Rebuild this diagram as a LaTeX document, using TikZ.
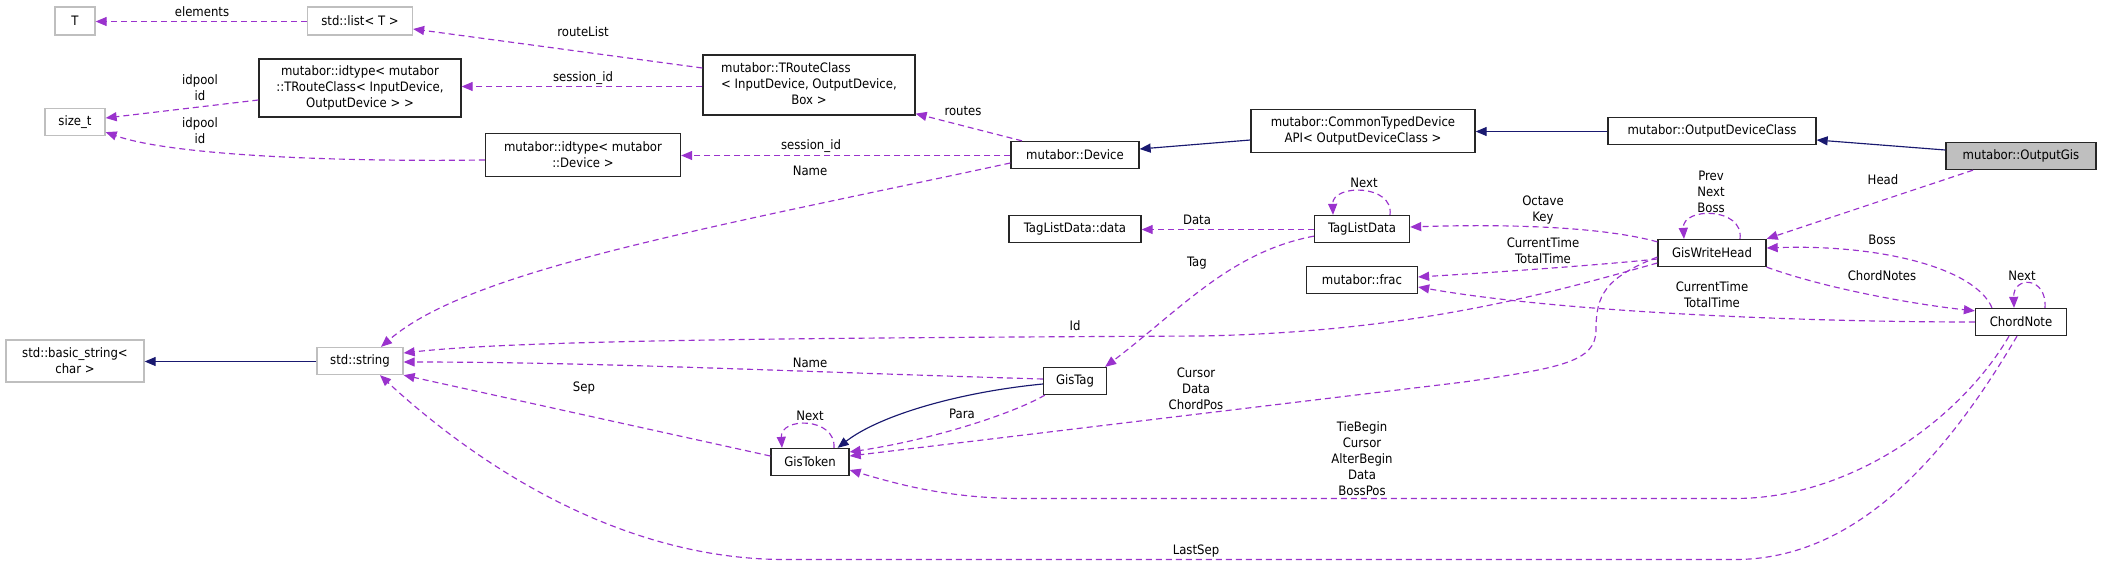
\documentclass[tikz,border=0pt]{standalone}
\usepackage{fontspec}
\setmainfont{DejaVu Sans Condensed}
\usetikzlibrary{arrows.meta,calc}
\definecolor{usecol}{HTML}{9A32CD}
\definecolor{inhcol}{HTML}{191970}
\definecolor{greyline}{HTML}{BFBFBF}
\begin{document}
\begin{tikzpicture}[x=1pt,y=-1pt,
  every node/.style={font=\fontsize{13}{16}\selectfont},
  cls/.style={draw=black!85,line width=1.3pt,fill=white,inner sep=0pt,align=center},
  ext/.style={draw=greyline,line width=1.3pt,fill=white,inner sep=0pt,align=center},
  usage/.style={draw=usecol,line width=1.15pt,dash pattern=on 6pt off 4pt,-{Triangle[length=11pt,width=9pt]}},
  inherit/.style={draw=inhcol,line width=1.15pt,-{Triangle[length=11pt,width=9pt]}},
  lab/.style={align=center,inner sep=0pt}
]
\path[use as bounding box,fill=white] (0,0) rectangle (2101,565);

% nodes
\node[ext, minimum width=40, minimum height=28] (T) at (75,21) {T};
\node[ext, minimum width=105, minimum height=28] (list) at (360,21) {std::list< T >};
\node[cls, minimum width=202, minimum height=58] (idTR) at (360,88) {mutabor::idtype< mutabor\\::TRouteClass< InputDevice,\\OutputDevice > >};
\node[ext, minimum width=60, minimum height=27] (size) at (75,122) {size\_t};
\node[cls, minimum width=195, minimum height=43] (idDev) at (583,155) {mutabor::idtype< mutabor\\::Device >};
\node[cls, minimum width=212, minimum height=60] (TR) at (809,85) {\begin{tabular}{@{}l@{}}mutabor::TRouteClass\\< InputDevice, OutputDevice,\\\multicolumn{1}{@{}c@{}}{Box >}\end{tabular}};
\node[cls, minimum width=128, minimum height=27] (dev) at (1075,155) {mutabor::Device};
\node[cls, minimum width=224, minimum height=43] (CT) at (1363,131) {mutabor::CommonTypedDevice\\API< OutputDeviceClass >};
\node[cls, minimum width=208, minimum height=27] (ODC) at (1712,131) {mutabor::OutputDeviceClass};
\node[cls, fill=greyline, minimum width=150, minimum height=27] (OG) at (2021,156) {mutabor::OutputGis};
\node[cls, minimum width=132, minimum height=27] (TLDd) at (1075,229) {TagListData::data};
\node[cls, minimum width=95, minimum height=27] (TLD) at (1362,229) {TagListData};
\node[cls, minimum width=111, minimum height=27] (frac) at (1362,280) {mutabor::frac};
\node[cls, minimum width=108, minimum height=27] (GWH) at (1712,253) {GisWriteHead};
\node[cls, minimum width=91, minimum height=27] (CN) at (2021,322) {ChordNote};
\node[ext, minimum width=138, minimum height=42] (bstr) at (75,361) {std::basic\_string<\\char >};
\node[ext, minimum width=86, minimum height=27] (std) at (360,361) {std::string};
\node[cls, minimum width=63, minimum height=27] (GT) at (1075,381) {GisTag};
\node[cls, minimum width=78, minimum height=27] (GTk) at (810,462) {GisToken};

% edges
\draw[usage] ($(list.west)+(0,0.5)$) -- ($(T.east)+(0,0.5)$) node[lab] at (202,12) {elements};
\draw[usage] ($(TR.west)+(0,-17)$) -- ($(list.east)+(0,8)$) node[lab] at (583,32) {routeList};
\draw[usage] ($(TR.west)+(0,1.5)$) -- ($(idTR.east)+(0,-1.5)$) node[lab] at (583,78) {session\_id};
\draw[usage] ($(idTR.west)+(0,12)$) -- ($(size.east)+(0,-4)$) node[lab] at (200,88) {idpool\\id};
\draw[usage] ($(idDev.west)+(0,5)$) .. controls (330,162) and (170,155) .. ($(size.south east)+(0,-4)$) node[lab] at (200,131) {idpool\\id};
\draw[usage] ($(dev.west)+(0,0.5)$) -- ($(idDev.east)+(0,0.5)$) node[lab] at (811,146) {session\_id};
\draw[usage] ($(dev.north)+(-53,0)$) -- ($(TR.south east)+(0,-2)$) node[lab] at (963,111) {routes};
\draw[inherit] ($(CT.west)+(0,9)$) -- ($(dev.east)+(0,-6)$);
\draw[inherit] ($(ODC.west)+(0,0.5)$) -- ($(CT.east)+(0,0.5)$);
\draw[inherit] ($(OG.west)+(0,-6)$) -- ($(ODC.east)+(0,9)$);
\draw[inherit] ($(std.west)+(0,0.5)$) -- ($(bstr.east)+(0,0.5)$);
\draw[usage] ($(OG.south)+(-48,0)$) -- (GWH.north east) node[lab] at (1883,180) {Head};
\draw[usage] ($(GWH.north)+(28,0)$) .. controls ($(GWH.north)+(32,-32)$) and ($(GWH.north)+(-30,-32)$) .. ($(GWH.north)+(-28,0)$) node[lab] at (1711,192) {Prev\\Next\\Boss};
\draw[usage] ($(GWH.north west)+(0,3)$) .. controls (1600,226) and (1500,224) .. ($(TLD.east)+(0,-2)$) node[lab] at (1543,210) {Octave\\Key};
\draw[usage] ($(TLD.north)+(28,0)$) .. controls ($(TLD.north)+(32,-31)$) and ($(TLD.north)+(-30,-31)$) .. ($(TLD.north)+(-29,0)$) node[lab] at (1364,183) {Next};
\draw[usage] ($(TLD.west)+(0,0.5)$) -- ($(TLDd.east)+(0,0.5)$) node[lab] at (1197,220) {Data};
\draw[usage] ($(TLD.south west)+(0,-7)$) .. controls (1230,252) and (1180,310) .. ($(GT.north east)+(-2,0)$) node[lab] at (1197,263) {Tag};
\draw[usage] ($(GWH.west)+(0,6)$) .. controls (1600,265) and (1500,272) .. ($(frac.east)+(0,-3)$) node[lab] at (1543,251) {CurrentTime\\TotalTime};
\draw[usage] (CN.west) .. controls (1800,322) and (1560,312) .. ($(frac.east)+(0,7)$) node[lab] at (1712,295) {CurrentTime\\TotalTime};
\draw[usage] (GWH.south east) .. controls (1830,290) and (1920,305) .. ($(CN.north west)+(0,3)$) node[lab] at (1882,276) {ChordNotes};
\draw[usage] ($(CN.north)+(-29,0)$) .. controls (1975,268) and (1880,244) .. ($(GWH.east)+(0,-5)$) node[lab] at (1882,240) {Boss};
\draw[usage] ($(CN.north)+(24,0)$) .. controls ($(CN.north)+(26,-32)$) and ($(CN.north)+(-8,-32)$) .. ($(CN.north)+(-7,0)$) node[lab] at (2022,276) {Next};
\draw[usage] ($(GWH.west)+(0,10)$) .. controls (1560,290) and (1420,332) .. (1200,336) .. controls (800,338) and (520,340) .. ($(std.east)+(0,-8)$) node[lab] at (1075,326) {Id};
\draw[usage] ($(dev.west)+(0,8)$) .. controls (700,230) and (470,270) .. ($(std.north)+(21,0)$) node[lab] at (810,171) {Name};
\draw[usage] ($(GT.west)+(0,-2)$) .. controls (800,372) and (600,362) .. ($(std.east)+(0,1)$) node[lab] at (810,363) {Name};
\draw[usage] ($(GTk.west)+(0,-6)$) -- (std.south east) node[lab] at (584,388) {Sep};
\draw[usage] ($(CN.south)+(-4,0)$) .. controls (1950,450) and (1860,559.5) .. (1735,559.5) -- (785,559.5) .. controls (600,559.5) and (450,440) .. ($(std.south)+(20,0)$) node[lab] at (1196,551) {LastSep};
\draw[inherit] ($(GT.west)+(0,3)$) .. controls (960,392) and (880,415) .. ($(GTk.north east)+(-12,0)$);
\draw[usage] ($(GTk.north)+(24,0)$) .. controls ($(GTk.north)+(26,-31)$) and ($(GTk.north)+(-30,-31)$) .. ($(GTk.north)+(-28,0)$) node[lab] at (810,416) {Next};
\draw[usage] ($(GT.south west)+(2,0)$) .. controls (1010,415) and (930,440) .. ($(GTk.east)+(0,-10)$) node[lab] at (962,414) {Para};
\draw[usage] ($(GWH.west)+(0,4)$) .. controls (1605,278) and (1596,295) .. (1596,330) .. controls (1596,362) and (1560,368) .. (1464,382) -- ($(GTk.east)+(0,-6)$) node[lab] at (1196,389) {Cursor\\Data\\ChordPos};
\draw[usage] ($(CN.south)+(-12,0)$) .. controls (1960,420) and (1850,498.5) .. (1735,498.5) -- (1023,498.5) .. controls (950,498.5) and (900,485) .. ($(GTk.east)+(0,8)$) node[lab] at (1362,459) {TieBegin\\Cursor\\AlterBegin\\Data\\BossPos};
\end{tikzpicture}
\end{document}
